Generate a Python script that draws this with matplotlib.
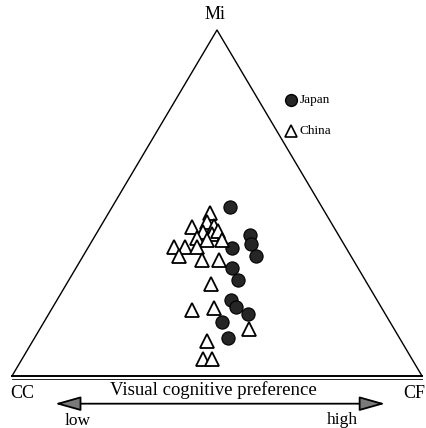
import matplotlib.pyplot as plt
import numpy as np

plt.rcParams['font.family'] = ['Liberation Serif', 'DejaVu Serif']

# Ternary shares (%) for each subject: MI and CF, CC is the remainder
japan_mi = [48.8, 40.8, 38.2, 34.7, 37.0, 31.2, 27.7, 22.0, 19.9, 17.9, 15.6, 11.0]
japan_cf = [28.8, 37.6, 39.2, 42.2, 35.2, 38.1, 41.2, 42.4, 44.6, 48.6, 43.4, 47.2]

china_mi = [47.1, 44.5, 43.4, 43.1, 41.6, 41.0, 41.9, 39.9, 39.3, 39.3, 37.3, 37.3,
            37.3, 34.7, 33.5, 33.5, 26.6, 19.1, 19.7, 13.6, 10.1, 4.9, 4.9]
china_cf = [24.7, 25.3, 27.6, 22.4, 25.8, 28.3, 29.2, 25.1, 27.9, 31.5, 20.9, 23.6,
            26.5, 23.4, 29.5, 33.7, 35.2, 34.4, 39.5, 51.0, 42.5, 44.1, 46.3]

corner_labels = ['CC', 'CF', 'Mi']


def to_xy(mi, cf):
    # CC at (0, 0), CF at (1, 0), MI at (0.5, 1)
    mi = np.asarray(mi) / 100.0
    cf = np.asarray(cf) / 100.0
    return cf + mi / 2.0, mi


fig = plt.figure(figsize=(4.27, 4.28), dpi=100)
ax = fig.add_axes([12 / 427, 52 / 428, 410 / 427, 346 / 428])
ax.set_xlim(0, 1)
ax.set_ylim(0, 1)
ax.axis('off')

# triangle frame, base drawn as a double rule
ax.plot([0, 0.5, 1], [0, 1, 0], color='black', lw=1.0, clip_on=False)
ax.plot([0, 1], [0, 0], color='black', lw=1.4, clip_on=False)
ax.plot([0, 1], [-0.010, -0.010], color='black', lw=0.6, clip_on=False)

jx, jy = to_xy(japan_mi, japan_cf)
cx, cy = to_xy(china_mi, china_cf)
ax.plot(jx, jy, 'o', ms=9.5, mfc='#262626', mec='black', mew=0.8, clip_on=False)
ax.plot(cx, cy, '^', ms=9.5, mfc='white', mec='black', mew=1.3, clip_on=False)

# legend
ax.plot([0.680], [0.798], 'o', ms=8.5, mfc='#262626', mec='black', clip_on=False)
ax.text(0.702, 0.798, 'Japan', fontsize=9.5, va='center', ha='left')
ax.plot([0.680], [0.708], '^', ms=8.5, mfc='white', mec='black', mew=1.2, clip_on=False)
ax.text(0.702, 0.708, 'China', fontsize=9.5, va='center', ha='left')

# corner labels
ax.text(0.024, -0.052, corner_labels[0], fontsize=13, ha='center', va='center')
ax.text(1.008, -0.052, corner_labels[1], fontsize=13, ha='right', va='center')
ax.text(0.495, 1.046, corner_labels[2], fontsize=13, ha='center', va='center')

# axis caption with double arrow
ax.text(0.49, -0.040, 'Visual cognitive preference', fontsize=13.5,
        ha='center', va='center')
ax.annotate('', xy=(0.098, -0.080), xytext=(0.917, -0.080),
            annotation_clip=False,
            arrowprops=dict(arrowstyle='<|-|>,head_length=1.6,head_width=0.45',
                            fc='#7a7a7a', ec='black', lw=1.3))
ax.text(0.159, -0.130, 'low', fontsize=12.5, ha='center', va='center')
ax.text(0.807, -0.128, 'high', fontsize=12.5, ha='center', va='center')

fig.savefig('out.png', dpi=100)
